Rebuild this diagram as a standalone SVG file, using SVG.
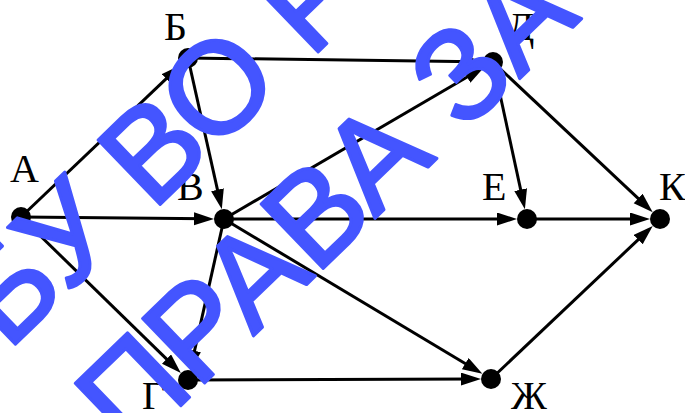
<svg xmlns="http://www.w3.org/2000/svg" width="685" height="413" viewBox="0 0 685 413">
<style>
.edge{stroke:#000;stroke-width:3;fill:none;marker-end:url(#arr)}
.node{fill:#000}
.lbl{font-family:"Liberation Serif","Times New Roman",serif;font-size:40px;fill:#000}
.wm{font-family:"Liberation Sans",Arial,sans-serif;font-size:130px;fill:#4455ff;stroke:#4455ff;stroke-width:3;stroke-linejoin:round}
</style>
<defs>
<marker id="arr" markerUnits="userSpaceOnUse" markerWidth="22" markerHeight="14" refX="12" refY="6.5" orient="auto">
<path d="M0,0 L20,6.5 L0,13 z" fill="#000"/>
</marker>
</defs>
<rect width="685" height="413" fill="#fff"/>
<g id="connectors">
<line class="edge" x1="21" y1="217" x2="174.96" y2="70.41"/>
<line class="edge" x1="21" y1="217" x2="206" y2="218.8"/>
<line class="edge" x1="21" y1="217" x2="175.12" y2="367.43"/>
<line class="edge" x1="188" y1="58" x2="475" y2="61.76"/>
<line class="edge" x1="188" y1="58" x2="220.07" y2="201.43"/>
<line class="edge" x1="224" y1="219" x2="477.45" y2="71.07"/>
<line class="edge" x1="224" y1="219" x2="509" y2="219"/>
<line class="edge" x1="224" y1="219" x2="475.56" y2="369.75"/>
<line class="edge" x1="224" y1="219" x2="191.93" y2="362.43"/>
<line class="edge" x1="493" y1="62" x2="523.19" y2="201.41"/>
<line class="edge" x1="493" y1="62" x2="646.89" y2="206.67"/>
<line class="edge" x1="527" y1="219" x2="642" y2="219"/>
<line class="edge" x1="188" y1="380" x2="473" y2="379.06"/>
<line class="edge" x1="491" y1="379" x2="646.93" y2="231.38"/>
</g>
<g id="node-A"><circle class="node" cx="21" cy="217" r="10"/><text class="lbl" x="10" y="182">А</text></g>
<g id="node-B"><circle class="node" cx="188" cy="58" r="10"/><text class="lbl" x="164" y="40">Б</text></g>
<g id="node-V"><circle class="node" cx="224" cy="219" r="10"/><text class="lbl" x="177" y="200">В</text></g>
<g id="node-G"><circle class="node" cx="188" cy="380" r="10"/><text class="lbl" x="142" y="409">Г</text></g>
<g id="node-D"><circle class="node" cx="493" cy="62" r="10"/><text class="lbl" x="507" y="40">Д</text></g>
<g id="node-E"><circle class="node" cx="527" cy="219" r="10"/><text class="lbl" x="482" y="200">Е</text></g>
<g id="node-K"><circle class="node" cx="660" cy="219" r="10"/><text class="lbl" x="659" y="200">К</text></g>
<g id="node-Zh"><circle class="node" cx="491" cy="379" r="10"/><text class="lbl" x="511" y="409">Ж</text></g>
<g id="watermark">
<text class="wm" transform="translate(7.8,351.5) rotate(-44)">БУ ВО Р</text>
<text class="wm" transform="translate(129.8,455.1) rotate(-44)">ПРАВА ЗА</text>
</g>
</svg>
